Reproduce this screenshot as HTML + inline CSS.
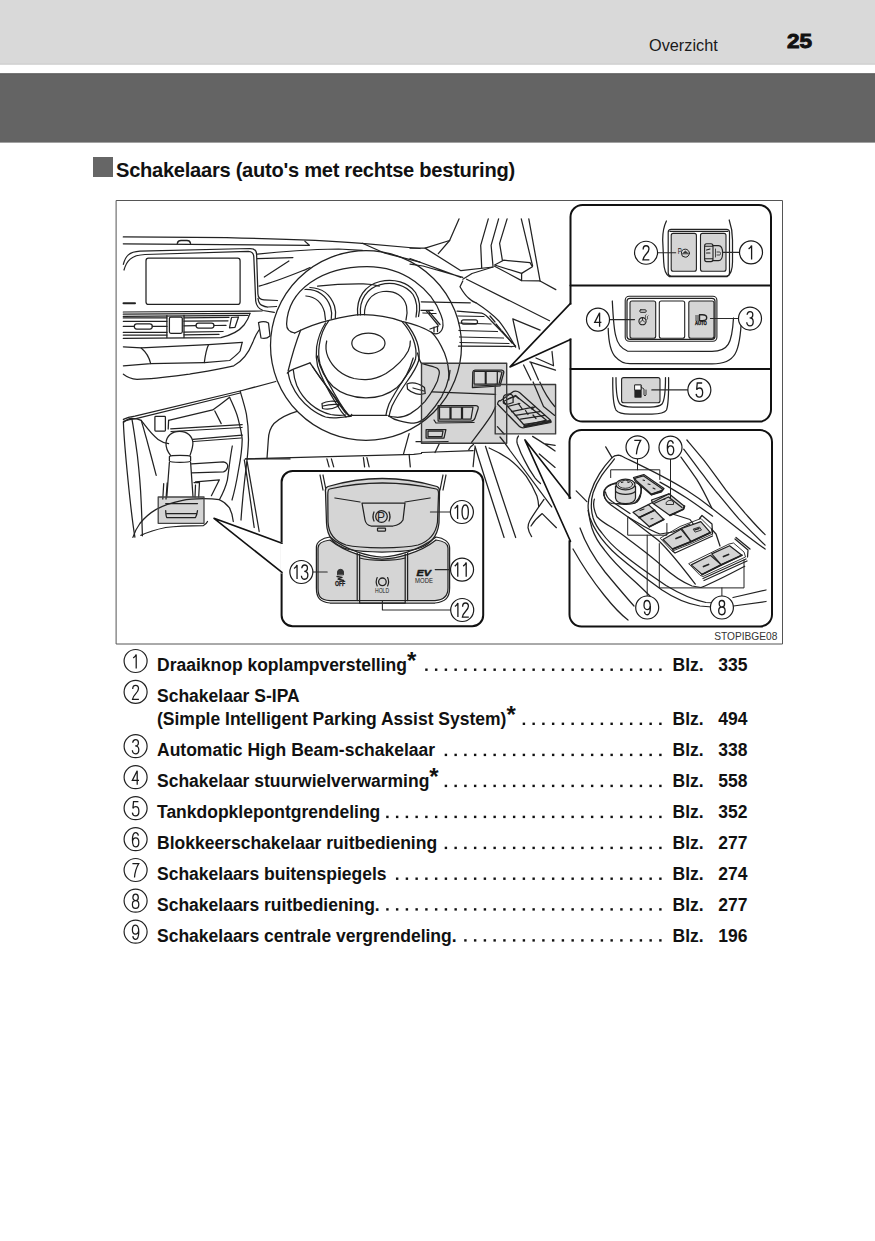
<!DOCTYPE html>
<html><head><meta charset="utf-8">
<style>
*{margin:0;padding:0;box-sizing:border-box}
html,body{width:875px;height:1241px;background:#fff;overflow:hidden}
body{position:relative;font-family:"Liberation Sans",sans-serif;color:#111}
#hdr1{position:absolute;left:0;top:0;width:875px;height:64px;background:#d9d9d9}
#hdr2{position:absolute;left:0;top:74px;width:875px;height:68px;background:#646464}
#ovz{position:absolute;left:649px;top:35px;font-size:16.3px;line-height:20px;color:#1a1a1a}
#pg{position:absolute;left:786.6px;top:30.2px;font-size:19.8px;line-height:22px;font-weight:bold;color:#111;transform-origin:0 0;transform:scaleX(1.14);-webkit-text-stroke:0.9px #111}
#sq{position:absolute;left:93px;top:157px;width:20px;height:20px;background:#666}
#h1{position:absolute;left:116px;top:158.1px;font-size:20.1px;letter-spacing:-0.27px;line-height:24px;font-weight:bold;color:#111;white-space:nowrap}
.row{position:absolute;left:157px;width:507px;height:20px;font-size:17.5px;line-height:20px;font-weight:bold;color:#111;white-space:nowrap;display:flex}
.row .t{flex:none}
.row .d{flex:1 1 0;min-width:0;overflow:hidden;direction:rtl}
.row .b{position:absolute;left:515.5px;top:0}
.row .n{position:absolute;left:561.2px;top:0}
.row i{font-style:normal;font-size:24px;line-height:0;position:relative;top:-2px;margin-left:0px}
svg{position:absolute;left:0;top:0}
</style></head><body>
<svg width="875" height="150" style="position:absolute;left:0;top:0"><rect x="0" y="0" width="875" height="64.4" fill="#d9d9d9"/><rect x="0" y="63.6" width="875" height="1" fill="#cacaca"/><rect x="0" y="73.4" width="875" height="69.2" fill="#646464"/><rect x="0" y="73.4" width="875" height="1" fill="#5a5a5a"/></svg>
<div id="ovz">Overzicht</div>
<div id="pg">25</div>
<div id="sq"></div>
<div id="h1">Schakelaars (auto's met rechtse besturing)</div>
<svg width="875" height="1241" viewBox="0 0 875 1241" fill="none" stroke="#222" stroke-width="1.25" stroke-linecap="round" stroke-linejoin="round">
<!-- outer frame -->
<rect x="116.5" y="200.5" width="666" height="443.5" stroke="#555" stroke-width="1"/>
<!-- gray highlight fills -->
<g fill="#d5d5d5" stroke="none">
<rect x="421.5" y="363.2" width="85.2" height="80.1"/>
<rect x="495.2" y="384.5" width="60.4" height="49.4"/>
<rect x="158.2" y="497" width="45.8" height="26.3"/>
</g>
<!-- ===== dashboard left ===== -->
<g id="dashL">
<path d="M123.3,236.9 C200,237 300,238 362,243.3 L420,248.5"/>
<path d="M123.3,243.8 L309.4,245.3 L304.8,241.1"/>
<path d="M177.3,243.3 Q178,240.5 181,240.5 L187,240.5 Q190,240.5 190.5,243.3" stroke-width="1.4"/>
<path d="M123.3,264.3 C125.5,256 129,251.8 140,251.2 L250.1,248.5 Q256.5,248.5 256.6,254.5 L257.9,294 Q258.2,299.5 264,299.8 L277.5,300.5"/>
<path d="M258,298.3 C258.5,302 259.5,304 261.5,305.1 C264,306.5 266,307 267.9,307 L276.5,306.5"/>
<path d="M124,270 C126.5,261 131,255.2 145,254.5 L248.3,251.4 Q253.6,251.6 253.8,257 L255.7,301 Q256.5,308 263,310.5 L274.3,312.4"/>
<rect x="146" y="258.2" width="94.1" height="46.2" rx="2.5"/>
<path d="M123.5,303.3 L135,303.3" stroke-width="2"/>
<path d="M123.3,312 L262,311"/>
<path d="M123.3,314.2 L250,313.3"/>
<path d="M123.3,316.4 L248,315.4"/>
<path d="M166.9,315.5 L166.9,337.6 M184,315.3 L184,337.6"/>
<rect x="169.4" y="317" width="12.9" height="16.3" rx="1.5"/>
<rect x="134.3" y="323.9" width="18" height="5.1" rx="2.5"/>
<rect x="196" y="323" width="18" height="5.1" rx="2.5"/>
<path d="M123.3,317.9 L166.9,317.9 M184,317.8 L229,317.3 M123.3,321.3 L166.9,321.3 M184,321.2 L228,320.8 M123.3,326.4 L134.3,326.4 M152.3,326.4 L166.9,326.4 M184,325.8 L196,325.7 M214,325.5 L226,325.4"/>
<path d="M123.3,332.4 L166.9,332.4 M184,332.2 L223,331.5 M123.3,335 L166.9,335 M184,334.8 L219,334.4"/>
<path d="M123.3,338.4 L220.9,337.6 C232,335 240,330 244,325 C247,321 249,317 250,313.3"/>
<path d="M231.5,317.5 L238.5,317 L235,327.3 L229.5,327.8 Z"/>
<path d="M123.4,346.8 L141.2,347.9 C146,352 149.5,358 150.7,363.6 L123.4,365.8"/>
<path d="M141.2,347.9 L208.5,344.7 L242.2,342.4"/>
<path d="M208.5,344.7 C206,350 205,357 204.3,362.6 L229.6,360.5 C234,357 238,354 240.1,351 L242.2,342.4"/>
<path d="M150.7,363.6 L204.3,362.6"/>
<path d="M123.4,374.2 C127,377 131,378.8 137,379.4 C155,379 172,376.5 189.6,374.2 C205,371.5 220,369 233.8,365.8 C243,361 249,352 252.7,342.6 C255,336 257,333 259,330"/>
<path d="M258.5,322.6 Q264,320.5 268.5,323 L270,336 Q266,339.5 261,338 Z"/>
</g>
<!-- ===== top / windshield ===== -->
<g id="dashTop">
<path d="M257.4,254.1 C280,251.5 310,249.5 338.6,249 L362.4,250.3"/>
<path d="M362.4,243.3 L384.3,253 L420,262.2"/>
<path d="M257.4,258.7 L292.9,257.6 M264.3,277 L288.9,261"/>
<path d="M259.1,286.1 C275,282 292,275 305.4,269.6 L310,267.5"/>
<path d="M459,218.9 L449.6,240.5 L425.1,248.1 L410,248.1"/>
<path d="M449.6,240.5 L438.3,253.7"/>
<path d="M425.1,248.1 L460.9,270.7 L493,267"/>
<path d="M488.3,218.9 L480.7,245.3 L481.7,267.9"/>
<path d="M498.6,218.9 L491.1,245.3 L493,266"/>
<path d="M507.1,218.9 L499.6,243.4 L502.4,260.3"/>
<path d="M521.3,218.9 L532.6,266"/>
<path d="M528.8,218.9 L540.1,281.1"/>
<path d="M494.6,265 L503.6,260.2 L530,262.6 L532.4,266.8 L521.6,273.4 Z"/>
<path d="M462.8,279.2 L472,273.5 L493,267"/>
<path d="M494.6,266.2 L521.6,280.6 L539.6,280.8 L555.8,289.6"/>
<path d="M521.6,273.4 L521.6,280.6"/>
<path d="M462.8,281 L460,286.7 C462.5,291 465,295 468.5,298 C471,300.5 473.5,302 476,302.8"/>
<path d="M421.3,301.8 L470.3,302.8"/>
<path d="M410,258.5 L460.9,277.3 M410,264.1 L423,266 L462.8,277.3"/>
<path d="M466.6,279.2 L549.5,320.7"/>
<path d="M512.8,318.8 L540.1,330.1 M512.8,318.8 L519.4,349"/>
</g>
<!-- right vent -->
<g>
<path d="M457.1,311.2 L481.7,313.1 C485,314 488,317 491.1,320.7 C499,329 507,337 515.6,346.1 L512,346.5"/>
<path d="M476,302.8 C484,308 492,314 498.6,320.7 C504.5,328 510,337 515.6,347.1"/>
<path d="M458.5,346.2 L512,346.5"/>
<path d="M458,316 L484,316.5 M458.5,323 L491,324 M459,330.5 L497.5,331.5 M459.5,337 L503.5,338 M460,342.5 L509,343.5"/>
<path d="M490,316 L495,322 M496,324 L501,330 M502,331 L507,337 M508,338 L512,343"/>
<rect x="461.5" y="319.8" width="16" height="4.2" rx="2"/>
</g>
<!-- ===== steering wheel ===== -->
<g id="wheel">
<ellipse cx="366" cy="345.5" rx="95.5" ry="94.8"/>
<!-- inner rim upper arc -->
<path d="M294.7,333 C289,332 286.5,329 286.6,324 C288,290 322,266.7 367,266.7 C405,266.7 432,290 441,315 C444,322 444,330 439,333 C436,334.5 433,333.5 431.4,332.2"/>
<!-- spoke/hub top line -->
<path d="M294.7,333 C305,328 318,323 329,320.4 C342,317 352,314.7 363.3,314.7 C375,314.7 388,316.5 401.9,321.3 C412,323.5 422,326.5 431.4,332.2 C437,337 441,345 444.5,353 C448,362 449.3,370 448.8,380"/>
<!-- stalk -->
<path d="M421,310.3 L433,310.3 M425.9,310.3 L438,325 M428,310.3 L440,324.5 M423,313 L436,313.5"/>
<path d="M430,329 L438.5,326 M434,327 L434,332 M437.5,326 L437.5,331.5"/>
<!-- gauges -->
<path d="M305,289.5 C318,289 327,296 330.5,307 C332,312 331.8,316 331.3,318.5"/>
<path d="M310,287.5 C323,288 331,296 334.5,306 C336,311 335.8,315 335.3,318.3"/>
<path d="M306,296 C316,297 322,303 324.5,312 L325.5,320"/>
<path d="M317.6,286.1 C332,284.5 348,283.7 363.3,283.9 C370,284 375,284.8 379.3,286.1"/>
<path d="M357.7,315 C356,298 365,285 380,281.5 C394,278.5 408,282 415.5,292.5 C419.5,299 420.5,308 418.5,316.5"/>
<path d="M360.5,314.8 C359,300 367,288 380.5,284.6 C393,281.5 406,285 413,294.5 C417,301 417.5,309 416,317"/>
<path d="M364.5,314.7 C364,303 371,293 383,291.5 C395,290 404,296 406.5,306 C407.5,311 407,316 406,320"/>
<!-- hub sides (double) -->
<path d="M329,320.4 C324,327 320.5,336 319.3,345 C318.3,352 318.5,358 320,364 C324,375 332,390 340,403 C343,408 346,412 349,415.4"/>
<path d="M325.5,323 C321,330 317.8,339 316.6,347 C315.8,354 316.2,360 317.6,366 C321,377 329,392 337,405 C340,410 343,414 346,417"/>
<path d="M401.9,321.3 C407,327 411,333 413.5,340 C416,347 416.8,353 415.5,359 C413.5,366 409,372 404,379 C398,388 392.5,397 389,404 C387.5,408 386.5,411.5 386,414.8"/>
<path d="M405.5,322.5 C410.5,328.5 414.5,335 417,342 C419.3,349 419.8,355 418.5,361 C416.5,368 412,374.5 407,381.5 C401,390 395.5,399 392,406 C390.5,410 389.5,413.5 389,416.5"/>
<!-- pad U curves -->
<path d="M326.7,341 C325.5,346 325.8,352 328,357 C333,368 343,375.5 354,378.5 C358,379.4 362,379.7 366,379.6 C373,379.3 380,377 386,373.5 C396,367 404,359 408.2,351 C409.8,347.5 410.5,344 410.3,341"/>
<path d="M317.3,356 C320,368 325,379 333,386.5 C341,393.5 352,397.5 365.5,397.9 C378,398 389,394 397,387.5 C405,380.5 410,369 413.2,358"/>
<ellipse cx="368.4" cy="343.3" rx="16.6" ry="10.3"/>
<!-- hub bottom -->
<path d="M349,415.4 L387.1,415.4"/>
<!-- left spoke bottom edge + lower-left opening -->
<path d="M287.3,373.2 C289,371 291,370 293.5,369.1 L310,362.9"/>
<path d="M288,372.3 C288.8,376.5 289.8,380.5 291.3,384.1 C293.5,389 296,393.5 299.2,397.3 C302.5,401.5 306.5,405.5 311,409.1 C315.5,412.5 320.5,415.5 325.5,417 C330,418 334.5,418 338.6,417.6 C343,417.2 347,416.8 350.4,416.3 C351.5,416 351.8,415.2 351.7,414.3"/>
<path d="M293.3,370 C293.8,376 295,381 296.8,385.5 C300,393 305,399.5 311,404.5 C317,409.5 324,413 330.8,414.5 C336,415.5 341,415.5 345.5,415"/>
<path d="M300.6,330.2 C295.5,343 291.5,357 288.1,371"/>
<path d="M310,362.9 C316,372 323,382 330.5,391.7 C336,399.5 341,407 345,412.3 C347.5,415 349.5,416 351.1,416.4"/>
<path d="M312.5,366.5 C318,375 326,385.5 332.5,394 C338,401 342.5,408 346.5,413.5"/>
<!-- right spoke bottom + lower-right opening -->
<path d="M417.5,353 C418.5,357 419.5,361 421.5,363.5 C427,365 432,366 436.8,368 C439,369.5 439.7,371.5 439.2,374 C438.5,379 437,383 434.4,387.2 C431.5,392.5 428.5,397 424.8,401.6 C420.5,406.5 415.5,410.5 410.4,413.6 C405.5,416.3 400,417.5 396,417.2 C392.5,417 390.5,416.5 388.8,416"/>
<path d="M388.8,416 C392,418.5 395.5,420 399.6,420.8 C404.5,422 409.5,423 414,423.2 C419,422.5 423.5,420 427.2,416 C432.5,410 437.5,403.5 441.6,396.8 C445,390.5 447.5,384 448.8,377.6 C449.5,375 449.8,372.5 450,370.4"/>
<!-- spoke buttons -->
<path d="M322,403.5 C327,401 334,400.5 338,402 L338.8,406 C334,408.5 327,409.5 322.5,408.5 Z"/>
<path d="M323,406 C328,404.5 333,404 338.5,404.5"/>
<path d="M407,384 C412,382 418,383 424.5,387.5 L425.2,393.5 C419,395.5 412,393.5 407.5,389 Z"/>
<path d="M413,388 L424,391"/>
</g>
<!-- lower dash under wheel -->
<g>
<path d="M245.7,458.9 L413.7,454.3 L421.5,453.5"/>
<path d="M326.9,458.9 L329.1,466.9 M331.4,458.8 L333.7,466.9 M363.4,457.7 L364.6,466.9 M366.9,457.6 L369.1,466.9"/>
<path d="M409.1,433.7 L403.4,454.3 M409.1,454.3 L410.3,466.9"/>
<path d="M416,441.7 L421.5,441.7"/>
</g>
<!-- ===== center console / gear ===== -->
<g id="console">
<path d="M123.4,419.4 C126,418 130,416.8 134.9,416.2 L240.1,391 L275.8,381.5"/>
<path d="M123.4,421.4 C127,420 131,419 136,418.6 L240.1,393"/>
<path d="M168.6,420.4 L212.7,409.9 C220,405 225,401 229.6,397.3"/>
<path d="M168.6,420.4 L168.2,429"/>
<path d="M170.7,428.8 L242.2,424.6 M171,431.5 L242,427.5"/>
<path d="M214.8,411 L221.2,423.6"/>
<rect x="154.9" y="416.4" width="10.5" height="14.6" rx="0.8"/>
<path d="M123.4,422.5 C126,420 129,418.3 131.8,418.3 C135,418.3 138.5,419 141.2,420.4 C147,428 152,435 158.1,439.4 C161,441.5 164.5,443 168.6,443.6"/>
<path d="M131.8,418.3 C134,430 136,445 137.4,455.5 C139,470 140.5,485 141.1,500.6 C141.8,515 142.2,528 142.4,535.8"/>
<path d="M123.4,422.5 C124,440 126,460 128,480 C130,500 132,520 134.9,537.1"/>
<path d="M141.2,420.4 C143,426 144.5,432 146.2,437.7 C149.5,450 153,463 156.2,475.4"/>
<!-- gear knob -->
<path d="M170.6,455.4 C167,451 165.8,447 166,443 C166.5,436 172,431.4 179.5,431.4 C187,431.4 192.5,436 192.9,443 C193,447 191.5,451 190,455.4"/>
<path d="M169.4,456.6 C170,455.8 175,455.4 180,455.4 C185,455.4 190,455.8 190.6,456.6 L190.6,461 C190,462 185,462.3 180,462.3 C175,462.3 170,462 169.4,461 Z"/>
<path d="M169.4,462.3 L166.8,497 M190.6,462.3 L193,496.7"/>
<path d="M163.7,483.7 L162.8,499 M167.2,483 L166,499 M194,482.5 L199.5,482.5 L198.7,497 M195.5,485 L195,497"/>
<path d="M192.8,439.4 L242.2,435.2 M193.5,441.5 L241,438"/>
<path d="M191.6,463.9 L223.4,461.9 C227,462.5 228.5,465 227.4,467.8 C226.5,470.5 225,471.6 223.4,471.8 L191.6,472.8"/>
<path d="M195.5,481.8 L219.4,479.8 L211.4,495.7"/>
<path d="M232.3,446 C230,458 229,469 227.4,479.8 C225.5,488 222.5,494 219.4,499.7"/>
<path d="M229.6,397.3 C233,405 236.5,412 238,418.3 C240,426 241.8,433 242.2,439.4 C242,452 240,462 238.5,470 C236,485 233.5,495 232,500"/>
<path d="M240.1,391 C242.5,399 245,407 246.4,414.1 C247.8,422 248.5,431 248.5,439.4 C248.3,452 246.5,465 245,477 C243.5,490 242,505 241,520"/>
<path d="M244.3,459.9 C248,482 251,505 254.2,527.5 M247.2,461.9 C251,485 255,508 259.2,531.5"/>
<path d="M245.3,458.9 L290,458.9"/>
<path d="M297,411.4 C288,414 280,418 274,423.5 C270,428 268.5,434 268.3,440 L267,458.5"/>
<!-- console bottom -->
<path d="M132.9,537.4 C134.5,532 137,527.5 139.9,523.5 C145,517 150,513 155.8,509.6 C164,505 172,502.5 181.6,500.6 C189,499 196,498.7 203.5,498.7 C209,498.7 214.5,499 219.4,499.7 C223.5,501.5 227,504.5 229.3,507.6 C231.5,511.5 232.8,516.5 233.3,521.5"/>
<path d="M140.9,535.4 C148,532 157,529.3 165.7,527.5 C178,525.7 190,525.5 203.5,525.5 C205.5,524.5 206.8,523 207.5,521.5"/>
<path d="M165.7,503.6 L197.5,503.6 M165.7,510.6 C165.8,514 166.2,516.5 166.7,517.5 L195.5,517.5 C196.5,516 197.2,513 197.5,510.6 M167,513.5 L196.5,513.5"/>
</g>
<!-- gear gray box border -->
<rect x="158.2" y="497" width="45.8" height="26.3" stroke="#444" stroke-width="1.3"/>
<!-- ===== switches inside box A ===== -->
<g>
<path d="M472.4,387.6 L472.8,372 Q473,370 475,370 L501.8,370 Q504,370.5 503.8,372.5 L500,386 L472.4,387.6"/>
<path d="M474.1,371.3 L485.3,371.3 L485.3,384.1 L474.1,384.1 Z M486.1,371.3 L497.3,371.3 L497.3,384.1 L486.1,384.1 Z"/>
<path d="M497.3,371.3 L502,372 L499,384 M474,386 L499,385"/>
<path d="M438.1,405.6 L476,405.6 Q479,406 478,409 L475,418 Q474,421 471,421 L438.1,421 Z"/>
<path d="M439.5,407 L450,407 L450,419 L439.5,419 Z M451,407 L461.5,407 L461.5,419 L451,419 Z M462.5,407 L473,407 L471,419 L462.5,419 Z"/>
<path d="M434,420 L436,423 L474,422.5"/>
<path d="M426.1,429.6 L445.9,429.6 L444,438.1 L426.1,438.1 Z M428,431 L443,431 L442,436.5 L428,436.5 Z"/>
<path d="M421.5,442 L448,441.5"/>
</g>
<!-- window switch cluster in box B -->
<g>
<path d="M432.1,391.9 L495.6,394.4"/>
<path d="M495.6,406.4 C494,410 492.5,413.5 490.4,416.7 C485,425 478,434 471.6,442.4"/>
<path d="M533.1,382 L543.5,406.5 L554.7,415.4 M539.8,382 C544,392 549,400 554.7,406.5"/>
<path d="M497.5,404 C498,401.5 499.5,400 500.1,400.9 L513.8,391.3 C516,390.8 518,391.3 519.5,392.5 L550.6,420.3 L551,422.5 L524.2,427.7 C522,428 520.5,427.5 519.5,426.5 Z" fill="#d5d5d5"/>
<path d="M503.4,401.5 L515.3,395.5 L546.5,420.2 L524.5,425.5 Z"/>
<path d="M503.4,397.5 L503.4,403 C504.5,404 506.5,404.3 508.5,404 L513.1,402.5 L513.1,397.5 C513,395 511,394 508.3,394.2 C505.5,394.5 503.5,395.5 503.4,397.5 Z"/>
<path d="M508,399 L512,397.5 M513.1,397.5 L516,396 L518.5,398.5"/>
<path d="M507.8,406.5 L519.8,403.5 M511.5,411.7 L533.1,407.2 M515.3,415.4 L539.8,411.7 M520.5,419.1 L545,415.4 M524.2,424.3 L549.5,420.6"/>
<path d="M518.3,403.5 L522,408.7 M525.5,410.5 L528,414.5 M533,415 L536,418.5 M535,406.5 L532,409"/>
<path d="M524.2,426.5 L550.5,421.5" stroke-width="2"/>
<path d="M497.4,426.6 L504.1,434"/>
</g>
<!-- lines below boxes A/B -->
<g>
<path d="M421.5,452.5 L473.1,450.7"/>
<path d="M435,452.5 L439.5,443.3"/>
<path d="M468.7,449.8 L470.5,447 L473.5,444.5"/>
<path d="M474.9,448 L473.1,466.6"/>
<path d="M474.9,446 C484,476 494,506 504.1,537.5"/>
<path d="M485.5,446.3 C495,476 505,506 515.7,537.5"/>
<path d="M489.1,448 C496,451 502.5,454.5 508.6,458.7 C515,463.5 521,469.5 526.3,476.4 C530.5,482.5 534,489 536.9,495.9 C538,499.5 538.5,503 538.7,506.5"/>
<path d="M500,437 C503.5,441 507,446 510,450.5 L551.7,506.9"/>
<path d="M518.5,436 C516.5,438.5 516.5,441 517.4,444 C519.5,450 521.5,455 524.5,460.4 C527.5,466.5 531,472.5 535.1,478.1 C537,480.5 538.7,482 540.5,483.5"/>
<path d="M539.3,453.9 L555.1,467.4"/>
<path d="M532.6,436.4 C540,441 548,446 555.1,451 M543.8,443.7 L555.1,445.4"/>
<path d="M544,499.4 C539,506.5 534,513.5 529.8,520.7 C528.5,523 528,525.5 528,527.7 C528.5,531 529.8,534 531.6,536.6"/>
<path d="M542.2,513.6 L556.4,527.7 M542.2,513.6 C538,517 534,521 531,526"/>
<path d="M441.3,475.5 L438.6,499.4 M445.7,475.5 L442.1,499.4"/>
</g>
<path d="M529.8,361.9 L555.5,370.2 M536,358 L553.5,365.8 L552,351.5 M523.6,365 L530.9,380 M531,363 L538.5,380"/>
<!-- gray box borders -->
<rect x="421.5" y="363.2" width="85.2" height="80.1" stroke="#3a3a3a" stroke-width="1.4"/>
<rect x="495.2" y="384.5" width="60.4" height="49.4" stroke="#3a3a3a" stroke-width="1.4"/>

<!-- ===== callout panel top ===== -->
<g>
<rect x="570.5" y="205" width="200.5" height="216.6" rx="12" fill="#fff" stroke="#111" stroke-width="2"/>
<path d="M570.5,285.5 L771,285.5 M570.5,369 L771,369" stroke="#111" stroke-width="2"/>
<path d="M570.5,304.6 L570.5,338.4" stroke="#fff" stroke-width="3.2" stroke-linecap="butt"/>
<path d="M571.2,302.8 L556,318.7 M571.2,339.5 L556,346" stroke="#fff" stroke-width="0"/>
</g>
<!-- panel1: buttons 1,2 -->
<g>
<path d="M666.4,221 C663.5,227 662.6,233 662.7,240.3 L663.7,262 C664,270 665.5,274.5 669.4,276.7 L727,276.7 C730.5,274.5 732.5,270 732.5,262 L732.5,240 C732.5,233 731.6,227 729.2,220"/>
<rect x="668.2" y="229.3" width="61.3" height="46.7" rx="3" fill="#fff" stroke-width="1.2"/>
<path d="M670,231.4 L727.7,231.4" stroke-width="1.2"/>
<rect x="671.2" y="233.4" width="25.2" height="37.9" rx="2" fill="#d5d5d5" stroke-width="1.1"/>
<rect x="700.5" y="233.4" width="25.5" height="37.9" rx="2" fill="#d5d5d5" stroke-width="1.1"/>
<text x="677.8" y="253.7" font-size="9" font-family="Liberation Sans" fill="#1a1a1a" stroke="none" textLength="4" lengthAdjust="spacingAndGlyphs">P</text>
<circle cx="685.4" cy="253.2" r="4" stroke-width="1"/>
<path d="M682.6,253.6 L685.4,251 L688.2,253.6 Z" fill="#333" stroke-width="0.6"/>
<path d="M706.5,243.7 L711,243.7 Q713,243.7 713,246 L713,259.3 Q713,261.6 711,261.6 L706.5,261.6 Q704.6,261.6 704.6,259.3 L704.6,246 Q704.6,243.7 706.5,243.7 Z M704.8,246.2 L712.8,246.2 M704.8,258.8 L712.8,258.8 M706.5,250 L710,249 M706.5,253 L710,253" stroke-width="1.1"/>
<path d="M713,245.6 L718.5,245.6 Q722.6,245.6 722.6,253.1 Q722.6,260.6 718.5,260.6 L713,260.6" stroke-width="1.1"/>
<path d="M715.5,249 L715.5,257 M717,252 L719.5,252 Q720.5,252 720.5,253.5 Q720.5,255 719.5,255 L717,255" stroke-width="0.8"/>
</g>
<!-- panel2: buttons 3,4 -->
<g>
<path d="M612.3,301 C613,315 614,330 615.8,336 C617,342 620,348 627.4,351 L712,351.4 C728,351.4 732,344 733.5,318"/>
<path d="M608.2,328.4 C608.5,340 610.5,352 615.8,357.2 C619,361 623,363.7 630,363.7 L712,363.9 C736,363.9 740,352 741.5,318"/>
<rect x="625.2" y="296.3" width="91.7" height="44.9" rx="4" fill="#fff" stroke-width="1.1"/>
<rect x="627" y="298.3" width="88" height="41" rx="3"/>
<rect x="630" y="301" width="25.7" height="37.3" rx="2" fill="#d5d5d5" stroke-width="1.1"/>
<rect x="659.3" y="301" width="25.4" height="37.3" rx="2" fill="#fff" stroke-width="1.1"/>
<rect x="688.8" y="301" width="25.2" height="37.3" rx="2" fill="#d5d5d5" stroke-width="1.1"/>
<rect x="639.8" y="309.8" width="6.4" height="2.5" rx="1" stroke-width="1"/>
<circle cx="642.5" cy="321.2" r="3.6" stroke-width="1.1"/>
<path d="M640.2,322.3 L642.5,320 L644.8,322.3 M642.5,320 L642.5,318" stroke-width="0.9"/>
<path d="M645,318.5 Q646,317.5 645.5,316.5 Q645,315.5 646,314.8 M647,319.5 Q648,318.5 647.5,317.5 Q647,316.5 648,315.8" stroke-width="0.8"/>
<path d="M699.5,314.7 L702.5,314.7 Q706.7,314.7 706.7,317.7 Q706.7,320.6 702.5,320.6 L699.5,320.6 Z" stroke-width="1.4"/>
<path d="M695.5,316 L698.5,316 M695.5,318 L698.5,318 M695.5,320 L698.5,320" stroke-width="0.9"/>
<text x="694.9" y="324.8" font-size="5" font-weight="bold" font-family="Liberation Sans" fill="#1a1a1a" stroke="#1a1a1a" stroke-width="0.35" textLength="11.8" lengthAdjust="spacingAndGlyphs">AUTO</text>
</g>
<!-- panel3: button 5 -->
<g>
<path d="M612.8,377.6 C612.5,395 613,405 616,410 Q619,414 630,414 L652,414 Q664,414 666.5,410 C668.5,405 668.8,395 668.6,377.6"/>
<path d="M616,377.6 C616,393 617,401 620,404 Q623,407 633,407 L650,407 Q659,407 662,404 C665,400 665.5,392 665.5,377.6"/>
<rect x="621.6" y="377.6" width="38.4" height="25.1" rx="2" fill="#d5d5d5" stroke-width="1.1"/>
<path d="M635,385 L641,385 L641,397 L635,397 Z" fill="#222"/>
<path d="M635,385 L641,385 L641,390 L635,390 Z" fill="#fff" stroke-width="0.8"/>
<path d="M641,387 L644,389 L644,395 Q645,397 646,395 L646,390" stroke-width="0.9"/>
</g>
<!-- ===== callout panel window switches ===== -->
<g>
<rect x="569.5" y="430" width="202.5" height="196.5" rx="12" fill="#fff" stroke="#111" stroke-width="2"/>
<path d="M569.5,498.9 L569.5,540.3" stroke="#fff" stroke-width="3.2" stroke-linecap="butt"/>
</g>
<g>
<!-- door / background lines -->
<path d="M686.9,440 C692,446 698,453 703.4,459.7 C711,469.5 718,479.5 725.7,489.9 C732,498 739,506 745.4,513.6 C752,521 758,528 765.1,534.6"/>
<path d="M683.7,449.2 C689,456 694,463 699.4,470.2 C706,478.5 712,487 719.1,495.2 C725.5,503 732,511 738.9,518.9 C747,527.5 756,536.5 765.1,545.1"/>
<path d="M681,457.1 C686,464 691.5,471.5 696.8,479.4 C702,488 707,498 711.9,508.3"/>
<path d="M620.8,455.7 C642,466 664,476 686.3,490 C695,495.5 703.5,501.5 711.9,508.3 C721,515.5 730,522.5 738.9,529.4 C747.5,536 756,542.5 765.1,549.1"/>
<path d="M660,482.1 C669,487 678,492.5 686.3,497.8 C695,503.5 704,510 712.6,516.2"/>
<path d="M605.7,446.9 L612,457.6"/>
<path d="M576.2,490.9 L586.9,501.6"/>
<path d="M612,457.6 C613.5,456 615.5,455.3 618.3,455.1 L620.8,455.7"/>
<path d="M612,457.6 C607,463 603,468 599.4,473.9 C595.5,480 592.5,486.5 590.6,492.8 C589,497 588.1,501 588.1,505.4 C588.1,510 588.8,514 590,518 C591.8,523 594,527.5 596.9,531.8 C602,540 609,548 618,556 C632,568 648,580 662,590 C674,598 688,604 700,606 L712,607"/>
<path d="M614.5,458.9 C610,465 605.5,470 601.9,475.2 C598,481 595,487 593.1,492.8 C591.8,497 591.3,501 591.3,505.4 C591.3,510 592,514 593.1,518 C595,524 598,528.5 601.9,533 C607,540 614,547 622,553.5 C636,565 652,576 666,585.5 C680,594 694,600 706,602.5 L719,603"/>
<path d="M588.1,510.4 C589,516 590.2,522 591.9,528 C594.5,536 599,543.5 604.5,550 C612,560 622,570 632,579 C640,586 648,594 655,601"/>
<path d="M580,528 C586,545 594,558 605,572 C615,584 625,596 634,606"/>
<path d="M573,549 C582,565 592,580 604,595 C612,605 620,614 628,620"/>
<path d="M733,597.5 L766,590 M733.5,606 L766,601.5"/>
<!-- console top surface -->
<path d="M594.4,499.1 C593,503 593,508 596.9,516.7 C601,521 606,524 610.7,526.7 C617,531 623,535 628.3,539.3 C640,548 652,557 662,566 C672,575 682,582 692,586 L701,587.5 C712,583 728,575 744.7,566.2"/>
<path d="M603.8,495 C603,491 604.5,488.5 608,486.5 C612,484 616,482.5 619,481.8"/>
<path d="M603.8,495 C604.5,499 607,502 611,505 L628,517 L658.2,540.2 C670,551 683,568 695.3,584.1"/>
<path d="M605.5,492 C606,496 608.5,499 612,501.5 L630,513.5"/>
<path d="M640,483 C643,489 641,497 635,502.9 L617,503.5"/>
<!-- mirror knob -->
<path d="M604,494 C604.5,489 607,485.5 611,484.3 L617,483.5 M634,482.5 C638,483 640.5,485.5 641,488.5 C641.5,494 640,499 637,502 C634,504 629,504.5 624,504.3 L612,503.5 C607,502.5 604.5,499 604,494" fill="none"/>
<path d="M615.5,486 L615.5,498 C616,501.5 620,503.6 625.5,503.6 C631,503.6 635,501.5 635.5,498 L635.5,486 Z" fill="#d5d5d5"/>
<ellipse cx="625.5" cy="484.5" rx="9.5" ry="5.4" fill="#d5d5d5"/>
<ellipse cx="625.3" cy="484.3" rx="7.3" ry="4" stroke-width="0.9"/>
<path d="M615.6,491.5 C618,493.5 621.5,494.3 625.5,494.3 C629.5,494.3 633,493.5 635.4,491.5"/>
<path d="M621.5,482.5 L623,482 M627.5,482 L629,482.5" stroke-width="1.1"/>
<!-- mirror L/R selector -->
<path d="M633.5,477.5 L643.8,474.6 L664,488.6 L661.5,491.8 L651.5,495 L635,480.8 Z"/>
<path d="M634.5,478.4 L643.3,475.8 L662.8,489.2 L660.8,491.2 L651.5,494.3 L636.1,480.4 Z" fill="#d5d5d5"/>
<path d="M651.5,494.3 L660.8,491.2" stroke-width="1.8"/>
<path d="M643,480 L644.5,480.5 M648,484 L650,484.5 M653,488 L655,489" stroke-width="1.1"/>
<!-- lock switch 6 -->
<path d="M651.5,500 L669,493.8 L684.4,506.2 L683.4,509.2 L670,515.4 L652.5,503.1 Z" fill="#d5d5d5"/>
<path d="M670,515.4 L683.4,509.2 L684.4,506.2" stroke-width="1.8"/>
<path d="M654,503.5 L668.5,497 L682,507.5"/>
<path d="M666.5,502 Q670,498.5 673.5,502 L673.5,504.5 L666.5,504.5 Z" stroke-width="0.9"/>
<path d="M663.5,499.5 L665,499" stroke-width="1.2"/>
<!-- central lock 9 -->
<path d="M633,512.3 L648.4,504.6 L654.6,510.3 L639.2,517.5 Z" fill="#d5d5d5"/>
<path d="M639.2,517.5 L654.6,510.3 L663.8,519.5 L649.4,526.7 Z" fill="#d5d5d5"/>
<path d="M639.2,517.5 L654.6,510.3" stroke-width="1.8"/>
<path d="M649.4,526.7 L663.8,519.5" stroke-width="1.8"/>
<path d="M640,510.5 L644,509 M651,519 L653,518.5" stroke-width="1.1"/>
<path d="M648.4,504.6 L651,503.3 L669,493.8"/>
<path d="M628,517 C640,524 650,531 660,534 L673,532 C678,530 684,527 690,524"/>
<path d="M672.5,514 L690,519.5 L694,525"/>
<!-- window switches front pair -->
<path d="M660.5,538 L680,526.5 L701,518.5 L711.5,529 L712.5,534 L691.5,543.5 L672.6,551 Z" stroke-width="0.9"/>
<path d="M663,539.5 L680.9,529.2 L691.2,541.6 L672.6,549.1 Z" fill="#d5d5d5"/>
<path d="M681.6,528.5 L700.8,521.7 L710.4,532.6 L691.2,541.6 Z" fill="#d5d5d5"/>
<path d="M672.6,549.1 L691.2,541.6 L710.4,532.6" stroke-width="1.8"/>
<path d="M676,538.5 L681,536.5" stroke-width="1.8"/>
<path d="M693.5,529 L699.5,527 L701.5,530 L695.5,532 Z" stroke-width="0.9"/>
<path d="M694.8,529.8 L699,528.5" stroke-width="1.4"/>
<path d="M672.6,551 L675,553 L712.5,536"/>
<path d="M699.5,518.5 L702,515.5 L712,524 L712.5,534"/>
<path d="M711.5,529 L716,534 L720,546"/>
<!-- window switches rear pair -->
<path d="M689,563.5 L729,544 L733.5,543 L744,552 L745.5,557 L703,576.5 L700.5,575.5 Z" stroke-width="0.9"/>
<path d="M691.2,564.9 L710.4,555.3 L721.3,564.9 L702.1,574.5 Z" fill="#d5d5d5"/>
<path d="M711.7,553.9 L729.6,545.7 L741.9,555.3 L721.3,564.9 Z" fill="#d5d5d5"/>
<path d="M702.1,574.5 L721.3,564.9 L741.9,555.3" stroke-width="1.8"/>
<path d="M703.5,566.5 L708.5,564.5 M723.5,556.5 L728.5,554.5" stroke-width="1.8"/>
<path d="M703,578.5 L746,559 M704,580.5 L747,561"/>
<path d="M735,539 L748,550 L747.5,557"/>
<path d="M736,537.5 L750,549"/>
<!-- brackets -->
<path d="M610.7,477.6 L610.7,469.8 L659.8,469.8 L659.8,479.5 M637.5,469.8 L637.5,458.8" stroke-width="1"/>
<path d="M670.5,459.1 L670.5,499" stroke-width="1"/>
<path d="M627.7,517.8 L627.7,535.2 L666.9,535.2 L666.9,523.5 M647.2,535.2 L647.2,596.0" stroke-width="1"/>
<path d="M659.3,543.6 L659.3,587.9 L744,587.9 L744,560 M721.9,587.9 L721.9,596.0" stroke-width="1"/>
</g>
<!-- ===== EV panel ===== -->
<g>
<rect x="281.6" y="471" width="201.6" height="155.3" rx="11" fill="#fff" stroke="#111" stroke-width="2"/>
<path d="M281.6,543.5 L281.6,572" stroke="#fff" stroke-width="3"/>
<path d="M320,475 L323,490 M323,475 L326,490 M443,475 L440,490 M446,475 L443,490"/>
<path d="M325.5,492 C325,489 326,487.2 328,486.5 Q382,470.5 437,486.5 C439,487.2 439.7,489 439.5,492 L439,523 C437.5,537 430,546 415,549.5 C405,551.5 395,552 382,552 C369,552 359,551.5 349,549.5 C334,546 327,537 326.5,523 Z" fill="#d5d5d5"/>
<path d="M329.6,489 Q382,477 436.4,489 C438,489.5 438.8,491 438.5,495 L437.5,522 C436,533 430,541 418,545 C408,547.5 396,547.8 382,547.8 C368,547.8 356,547.5 346,545 C334,541 328.5,533 328,522 L327.8,495 C327.8,491 328.5,489 329.6,489 Z" fill="#d5d5d5"/>
<path d="M335,498 L360,502 M405,502 L430,498"/>
<path d="M362,503 L405,503 L403,520 Q400,525 393,526 L371,526 Q366,525 365,520 Z"/>
<text x="377" y="521" font-size="12" font-family="Liberation Sans" fill="#222" stroke="none">P</text>
<circle cx="381.5" cy="516.5" r="5.8"/>
<path d="M374,512 Q372,516.5 374,521 M389,512 Q391,516.5 389,521"/>
<rect x="377.5" y="528" width="8" height="3" rx="0.5"/>
<path d="M316.4,548 C316,542 322,538 330,537 C345,550 370,557 382,557 C395,557 420,550 436,537 C444,538 449.6,542 449.6,548 L449.6,588 C449.6,598 445,602 435,603 L330,603 C320,602 316.4,598 316.4,588 Z"/>
<path d="M318,548 C318,544 322,541 330,540 C346,553 370,559 382,559 C395,559 420,553 436,540 C444,541 448,544 448,548 L448,588 C448,596 444,600 435,600.6 L330,600.6 C320,600 318,596 318,588 Z" fill="#d5d5d5"/>
<path d="M357.2,553 L357.2,600.6 M359.6,554 L359.6,603 L405.2,603 L405.2,554 M407.6,553 L407.6,600.6"/>
<path d="M359.6,558 C370,561 395,561 405.2,558"/>
<circle cx="382.4" cy="581.8" r="3.8" stroke-width="1.3"/>
<path d="M377.2,577.6 Q375.2,581.8 377.2,586 M387.6,577.6 Q389.6,581.8 387.6,586" stroke-width="1.2"/>
<text x="375" y="592.9" font-size="7.3" font-family="Liberation Sans" fill="#222" stroke="none" textLength="14.1" lengthAdjust="spacingAndGlyphs">HOLD</text>
<text x="416.6" y="575.8" font-size="8.6" font-weight="bold" font-style="italic" font-family="Liberation Sans" fill="#1a1a1a" stroke="#1a1a1a" stroke-width="0.5" textLength="14.5" lengthAdjust="spacingAndGlyphs">EV</text>
<text x="415.1" y="583.2" font-size="7.3" font-family="Liberation Sans" fill="#222" stroke="none" textLength="17.8" lengthAdjust="spacingAndGlyphs">MODE</text>
<path d="M337.5,574.5 L337.5,571.5 Q338,569.3 340.5,569.3 Q343,569.3 343.5,571.5 L343.5,574.5 Z" fill="#333" stroke-width="0.8"/>
<text x="334.9" y="586.2" font-size="7" font-weight="bold" font-family="Liberation Sans" fill="#1a1a1a" stroke="#1a1a1a" stroke-width="0.3" textLength="10.4" lengthAdjust="spacingAndGlyphs">OFF</text>
<path d="M337,576.5 L342,577.5 L338,579 L343.5,580.5" stroke-width="1.3"/>
</g>
<!-- ===== callout pointers ===== -->
<g stroke="#111" stroke-width="1.6" fill="none">
<path d="M570.5,303.4 L510,366.9 L570.5,339.6" />
<path d="M570.5,497.9 L524.9,439.8 L570.5,541.3" fill="none"/>
<path d="M282,543.2 L214,518.3 L282,572.4"/>
</g>
<!-- ===== leaders ===== -->
<g stroke="#2a2a2a" stroke-width="1.1">
<path d="M657.5,252.75 L675.7,252.75"/>
<path d="M739.5,252.4 L722.4,252.4"/>
<path d="M609.5,319.6 L634.5,319.6"/>
<path d="M738.5,318.55 L710.4,318.55"/>
<path d="M687.9,389.9 L651.8,389.9"/>
<path d="M450.4,512 L430.4,512"/>
<path d="M450.6,569.6 L435.2,569.6"/>
<path d="M382.4,600.6 L382.4,610 L450.7,610"/>
<path d="M312.9,572 L327.2,572"/>
</g>
<!-- ===== circled numbers ===== -->
<g fill="#fff" stroke="#1a1a1a" stroke-width="1.2">
<circle cx="751" cy="252.4" r="11.5"/>
<circle cx="646.05" cy="252.75" r="11.5"/>
<circle cx="750" cy="318.55" r="11.5"/>
<circle cx="598" cy="319.6" r="11.5"/>
<circle cx="699.35" cy="389.9" r="11.5"/>
<circle cx="670.5" cy="447.6" r="11.5"/>
<circle cx="637.5" cy="447.3" r="11.5"/>
<circle cx="721.9" cy="607.5" r="11.5"/>
<circle cx="647.2" cy="607.5" r="11.5"/>
<circle cx="461.9" cy="512" r="11.5"/>
<circle cx="462.05" cy="569.6" r="11.5"/>
<circle cx="462.2" cy="610" r="11.5"/>
<circle cx="301.35" cy="572" r="11.5"/>
</g>
<g fill="none" stroke="#1a1a1a" stroke-width="1.3" stroke-linecap="butt" stroke-linejoin="miter">
<path transform="translate(748.10 259.50)" d="M0.5,-10.6 C1.6,-11.4 2.9,-12.6 3.5,-14.1 L3.5,0"/>
<path transform="translate(642.55 259.85)" d="M0.6,-10.4 C0.6,-12.8 1.9,-14.1 3.5,-14.1 C5.2,-14.1 6.4,-12.8 6.4,-10.8 C6.4,-8.8 5.2,-7.4 3.7,-5.8 C2,-4 0.7,-2.2 0.4,0 L6.8,0"/>
<path transform="translate(746.50 325.65)" d="M0.6,-10.9 C0.8,-12.9 2,-14.1 3.5,-14.1 C5.2,-14.1 6.3,-12.9 6.3,-11 C6.3,-9 5.1,-7.8 3.1,-7.8 M3.1,-7.8 C5.3,-7.8 6.7,-6.2 6.7,-4 C6.7,-1.5 5.3,0.15 3.5,0.15 C1.7,0.15 0.4,-1.1 0.25,-3.4"/>
<path transform="translate(594.50 326.70)" d="M5.1,0 L5.1,-14 L0.2,-4.3 L6.9,-4.3"/>
<path transform="translate(695.85 397.00)" d="M6.3,-14 L1.4,-14 L0.8,-7.3 C1.6,-8.5 2.6,-9 3.6,-9 C5.5,-9 6.8,-7.2 6.8,-4.5 C6.8,-1.6 5.3,0.15 3.4,0.15 C1.7,0.15 0.5,-1 0.25,-3.1"/>
<path transform="translate(667.00 454.70)" d="M6.3,-11 C6,-13.1 4.9,-14.1 3.5,-14.1 C1.4,-14.1 0.35,-11.4 0.35,-6.8 C0.35,-2.1 1.6,0.15 3.6,0.15 C5.4,0.15 6.7,-1.8 6.7,-4.5 C6.7,-7.2 5.3,-8.9 3.6,-8.9 C1.9,-8.9 0.7,-7.4 0.45,-5.4"/>
<path transform="translate(634.00 454.40)" d="M0.3,-14 L6.7,-14 C4.4,-10.2 2.8,-5.4 2.4,0"/>
<path transform="translate(718.40 614.60)" d="M3.5,-14.1 C1.9,-14.1 0.8,-12.7 0.8,-10.8 C0.8,-8.9 1.9,-7.6 3.5,-7.6 C5.1,-7.6 6.2,-8.9 6.2,-10.8 C6.2,-12.7 5.1,-14.1 3.5,-14.1 Z M3.5,-7.6 C1.6,-7.6 0.3,-6 0.3,-3.75 C0.3,-1.4 1.6,0.15 3.5,0.15 C5.4,0.15 6.7,-1.4 6.7,-3.75 C6.7,-6 5.4,-7.6 3.5,-7.6 Z"/>
<path transform="translate(643.70 614.60)" d="M0.7,-3.1 C1,-1.1 2.1,0.15 3.5,0.15 C5.6,0.15 6.65,-2.5 6.65,-7.1 C6.65,-11.8 5.4,-14.1 3.4,-14.1 C1.6,-14.1 0.3,-12.1 0.3,-9.4 C0.3,-6.7 1.7,-5 3.4,-5 C5.1,-5 6.3,-6.5 6.55,-8.5"/>
<path transform="translate(454.10 519.10)" d="M0.5,-10.6 C1.6,-11.4 2.9,-12.6 3.5,-14.1 L3.5,0"/><path transform="translate(461.70 519.10)" d="M3.5,-14.1 C1.6,-14.1 0.35,-11.5 0.35,-7.05 C0.35,-2.6 1.6,0.1 3.5,0.1 C5.4,0.1 6.65,-2.6 6.65,-7.05 C6.65,-11.5 5.4,-14.1 3.5,-14.1 Z"/>
<path transform="translate(454.25 576.70)" d="M0.5,-10.6 C1.6,-11.4 2.9,-12.6 3.5,-14.1 L3.5,0"/><path transform="translate(462.70 576.70)" d="M0.5,-10.6 C1.6,-11.4 2.9,-12.6 3.5,-14.1 L3.5,0"/>
<path transform="translate(454.40 617.10)" d="M0.5,-10.6 C1.6,-11.4 2.9,-12.6 3.5,-14.1 L3.5,0"/><path transform="translate(462.00 617.10)" d="M0.6,-10.4 C0.6,-12.8 1.9,-14.1 3.5,-14.1 C5.2,-14.1 6.4,-12.8 6.4,-10.8 C6.4,-8.8 5.2,-7.4 3.7,-5.8 C2,-4 0.7,-2.2 0.4,0 L6.8,0"/>
<path transform="translate(293.55 579.10)" d="M0.5,-10.6 C1.6,-11.4 2.9,-12.6 3.5,-14.1 L3.5,0"/><path transform="translate(301.15 579.10)" d="M0.6,-10.9 C0.8,-12.9 2,-14.1 3.5,-14.1 C5.2,-14.1 6.3,-12.9 6.3,-11 C6.3,-9 5.1,-7.8 3.1,-7.8 M3.1,-7.8 C5.3,-7.8 6.7,-6.2 6.7,-4 C6.7,-1.5 5.3,0.15 3.5,0.15 C1.7,0.15 0.4,-1.1 0.25,-3.4"/>
</g>
<text x="714.2" y="640.4" font-family="Liberation Sans" font-size="10.4" fill="#333" stroke="none" textLength="63.2" lengthAdjust="spacingAndGlyphs">STOPIBGE08</text>
</svg>

<div class="row" style="top:654.84px"><span class="t">Draaiknop koplampverstelling<i>*</i></span><span class="b">Blz.</span><span class="n">335</span></div>
<div class="row" style="top:685.74px"><span class="t">Schakelaar S-IPA</span></div>
<div class="row" style="top:708.94px"><span class="t">(Simple Intelligent Parking Assist System)<i>*</i></span><span class="b">Blz.</span><span class="n">494</span></div>
<div class="row" style="top:740.04px"><span class="t">Automatic High Beam-schakelaar</span><span class="b">Blz.</span><span class="n">338</span></div>
<div class="row" style="top:771.04px"><span class="t">Schakelaar stuurwielverwarming<i>*</i></span><span class="b">Blz.</span><span class="n">558</span></div>
<div class="row" style="top:802.04px"><span class="t">Tankdopklepontgrendeling</span><span class="b">Blz.</span><span class="n">352</span></div>
<div class="row" style="top:833.04px"><span class="t">Blokkeerschakelaar ruitbediening</span><span class="b">Blz.</span><span class="n">277</span></div>
<div class="row" style="top:863.84px"><span class="t">Schakelaars buitenspiegels</span><span class="b">Blz.</span><span class="n">274</span></div>
<div class="row" style="top:894.54px"><span class="t">Schakelaars ruitbediening.</span><span class="b">Blz.</span><span class="n">277</span></div>
<div class="row" style="top:925.54px"><span class="t">Schakelaars centrale vergrendeling.</span><span class="b">Blz.</span><span class="n">196</span></div>
<svg width="875" height="1241" viewBox="0 0 875 1241">
<circle cx="135.6" cy="661.0" r="11.5" fill="none" stroke="#222" stroke-width="1.2"/>
<circle cx="135.6" cy="691.9" r="11.5" fill="none" stroke="#222" stroke-width="1.2"/>
<circle cx="135.6" cy="746.2" r="11.5" fill="none" stroke="#222" stroke-width="1.2"/>
<circle cx="135.6" cy="777.2" r="11.5" fill="none" stroke="#222" stroke-width="1.2"/>
<circle cx="135.6" cy="808.2" r="11.5" fill="none" stroke="#222" stroke-width="1.2"/>
<circle cx="135.6" cy="839.2" r="11.5" fill="none" stroke="#222" stroke-width="1.2"/>
<circle cx="135.6" cy="870.0" r="11.5" fill="none" stroke="#222" stroke-width="1.2"/>
<circle cx="135.6" cy="900.7" r="11.5" fill="none" stroke="#222" stroke-width="1.2"/>
<circle cx="135.6" cy="931.7" r="11.5" fill="none" stroke="#222" stroke-width="1.2"/>
<g fill="none" stroke="#1a1a1a" stroke-width="1.25">
<path transform="translate(132.70 668.50)" d="M0.5,-10.6 C1.6,-11.4 2.9,-12.6 3.5,-14.1 L3.5,0"/>
<path transform="translate(132.10 699.40)" d="M0.6,-10.4 C0.6,-12.8 1.9,-14.1 3.5,-14.1 C5.2,-14.1 6.4,-12.8 6.4,-10.8 C6.4,-8.8 5.2,-7.4 3.7,-5.8 C2,-4 0.7,-2.2 0.4,0 L6.8,0"/>
<path transform="translate(132.10 753.70)" d="M0.6,-10.9 C0.8,-12.9 2,-14.1 3.5,-14.1 C5.2,-14.1 6.3,-12.9 6.3,-11 C6.3,-9 5.1,-7.8 3.1,-7.8 M3.1,-7.8 C5.3,-7.8 6.7,-6.2 6.7,-4 C6.7,-1.5 5.3,0.15 3.5,0.15 C1.7,0.15 0.4,-1.1 0.25,-3.4"/>
<path transform="translate(132.10 784.70)" d="M5.1,0 L5.1,-14 L0.2,-4.3 L6.9,-4.3"/>
<path transform="translate(132.10 815.70)" d="M6.3,-14 L1.4,-14 L0.8,-7.3 C1.6,-8.5 2.6,-9 3.6,-9 C5.5,-9 6.8,-7.2 6.8,-4.5 C6.8,-1.6 5.3,0.15 3.4,0.15 C1.7,0.15 0.5,-1 0.25,-3.1"/>
<path transform="translate(132.10 846.70)" d="M6.3,-11 C6,-13.1 4.9,-14.1 3.5,-14.1 C1.4,-14.1 0.35,-11.4 0.35,-6.8 C0.35,-2.1 1.6,0.15 3.6,0.15 C5.4,0.15 6.7,-1.8 6.7,-4.5 C6.7,-7.2 5.3,-8.9 3.6,-8.9 C1.9,-8.9 0.7,-7.4 0.45,-5.4"/>
<path transform="translate(132.10 877.50)" d="M0.3,-14 L6.7,-14 C4.4,-10.2 2.8,-5.4 2.4,0"/>
<path transform="translate(132.10 908.20)" d="M3.5,-14.1 C1.9,-14.1 0.8,-12.7 0.8,-10.8 C0.8,-8.9 1.9,-7.6 3.5,-7.6 C5.1,-7.6 6.2,-8.9 6.2,-10.8 C6.2,-12.7 5.1,-14.1 3.5,-14.1 Z M3.5,-7.6 C1.6,-7.6 0.3,-6 0.3,-3.75 C0.3,-1.4 1.6,0.15 3.5,0.15 C5.4,0.15 6.7,-1.4 6.7,-3.75 C6.7,-6 5.4,-7.6 3.5,-7.6 Z"/>
<path transform="translate(132.10 939.20)" d="M0.7,-3.1 C1,-1.1 2.1,0.15 3.5,0.15 C5.6,0.15 6.65,-2.5 6.65,-7.1 C6.65,-11.8 5.4,-14.1 3.4,-14.1 C1.6,-14.1 0.3,-12.1 0.3,-9.4 C0.3,-6.7 1.7,-5 3.4,-5 C5.1,-5 6.3,-6.5 6.55,-8.5"/>
</g><g fill="#111">
<rect x="659.20" y="668.50" width="2.4" height="2.4"/>
<rect x="649.45" y="668.50" width="2.4" height="2.4"/>
<rect x="639.70" y="668.50" width="2.4" height="2.4"/>
<rect x="629.95" y="668.50" width="2.4" height="2.4"/>
<rect x="620.20" y="668.50" width="2.4" height="2.4"/>
<rect x="610.45" y="668.50" width="2.4" height="2.4"/>
<rect x="600.70" y="668.50" width="2.4" height="2.4"/>
<rect x="590.95" y="668.50" width="2.4" height="2.4"/>
<rect x="581.20" y="668.50" width="2.4" height="2.4"/>
<rect x="571.45" y="668.50" width="2.4" height="2.4"/>
<rect x="561.70" y="668.50" width="2.4" height="2.4"/>
<rect x="551.95" y="668.50" width="2.4" height="2.4"/>
<rect x="542.20" y="668.50" width="2.4" height="2.4"/>
<rect x="532.45" y="668.50" width="2.4" height="2.4"/>
<rect x="522.70" y="668.50" width="2.4" height="2.4"/>
<rect x="512.95" y="668.50" width="2.4" height="2.4"/>
<rect x="503.20" y="668.50" width="2.4" height="2.4"/>
<rect x="493.45" y="668.50" width="2.4" height="2.4"/>
<rect x="483.70" y="668.50" width="2.4" height="2.4"/>
<rect x="473.95" y="668.50" width="2.4" height="2.4"/>
<rect x="464.20" y="668.50" width="2.4" height="2.4"/>
<rect x="454.45" y="668.50" width="2.4" height="2.4"/>
<rect x="444.70" y="668.50" width="2.4" height="2.4"/>
<rect x="434.95" y="668.50" width="2.4" height="2.4"/>
<rect x="425.20" y="668.50" width="2.4" height="2.4"/>
<rect x="659.20" y="722.60" width="2.4" height="2.4"/>
<rect x="649.45" y="722.60" width="2.4" height="2.4"/>
<rect x="639.70" y="722.60" width="2.4" height="2.4"/>
<rect x="629.95" y="722.60" width="2.4" height="2.4"/>
<rect x="620.20" y="722.60" width="2.4" height="2.4"/>
<rect x="610.45" y="722.60" width="2.4" height="2.4"/>
<rect x="600.70" y="722.60" width="2.4" height="2.4"/>
<rect x="590.95" y="722.60" width="2.4" height="2.4"/>
<rect x="581.20" y="722.60" width="2.4" height="2.4"/>
<rect x="571.45" y="722.60" width="2.4" height="2.4"/>
<rect x="561.70" y="722.60" width="2.4" height="2.4"/>
<rect x="551.95" y="722.60" width="2.4" height="2.4"/>
<rect x="542.20" y="722.60" width="2.4" height="2.4"/>
<rect x="532.45" y="722.60" width="2.4" height="2.4"/>
<rect x="522.70" y="722.60" width="2.4" height="2.4"/>
<rect x="659.20" y="753.70" width="2.4" height="2.4"/>
<rect x="649.45" y="753.70" width="2.4" height="2.4"/>
<rect x="639.70" y="753.70" width="2.4" height="2.4"/>
<rect x="629.95" y="753.70" width="2.4" height="2.4"/>
<rect x="620.20" y="753.70" width="2.4" height="2.4"/>
<rect x="610.45" y="753.70" width="2.4" height="2.4"/>
<rect x="600.70" y="753.70" width="2.4" height="2.4"/>
<rect x="590.95" y="753.70" width="2.4" height="2.4"/>
<rect x="581.20" y="753.70" width="2.4" height="2.4"/>
<rect x="571.45" y="753.70" width="2.4" height="2.4"/>
<rect x="561.70" y="753.70" width="2.4" height="2.4"/>
<rect x="551.95" y="753.70" width="2.4" height="2.4"/>
<rect x="542.20" y="753.70" width="2.4" height="2.4"/>
<rect x="532.45" y="753.70" width="2.4" height="2.4"/>
<rect x="522.70" y="753.70" width="2.4" height="2.4"/>
<rect x="512.95" y="753.70" width="2.4" height="2.4"/>
<rect x="503.20" y="753.70" width="2.4" height="2.4"/>
<rect x="493.45" y="753.70" width="2.4" height="2.4"/>
<rect x="483.70" y="753.70" width="2.4" height="2.4"/>
<rect x="473.95" y="753.70" width="2.4" height="2.4"/>
<rect x="464.20" y="753.70" width="2.4" height="2.4"/>
<rect x="454.45" y="753.70" width="2.4" height="2.4"/>
<rect x="444.70" y="753.70" width="2.4" height="2.4"/>
<rect x="659.20" y="784.70" width="2.4" height="2.4"/>
<rect x="649.45" y="784.70" width="2.4" height="2.4"/>
<rect x="639.70" y="784.70" width="2.4" height="2.4"/>
<rect x="629.95" y="784.70" width="2.4" height="2.4"/>
<rect x="620.20" y="784.70" width="2.4" height="2.4"/>
<rect x="610.45" y="784.70" width="2.4" height="2.4"/>
<rect x="600.70" y="784.70" width="2.4" height="2.4"/>
<rect x="590.95" y="784.70" width="2.4" height="2.4"/>
<rect x="581.20" y="784.70" width="2.4" height="2.4"/>
<rect x="571.45" y="784.70" width="2.4" height="2.4"/>
<rect x="561.70" y="784.70" width="2.4" height="2.4"/>
<rect x="551.95" y="784.70" width="2.4" height="2.4"/>
<rect x="542.20" y="784.70" width="2.4" height="2.4"/>
<rect x="532.45" y="784.70" width="2.4" height="2.4"/>
<rect x="522.70" y="784.70" width="2.4" height="2.4"/>
<rect x="512.95" y="784.70" width="2.4" height="2.4"/>
<rect x="503.20" y="784.70" width="2.4" height="2.4"/>
<rect x="493.45" y="784.70" width="2.4" height="2.4"/>
<rect x="483.70" y="784.70" width="2.4" height="2.4"/>
<rect x="473.95" y="784.70" width="2.4" height="2.4"/>
<rect x="464.20" y="784.70" width="2.4" height="2.4"/>
<rect x="454.45" y="784.70" width="2.4" height="2.4"/>
<rect x="444.70" y="784.70" width="2.4" height="2.4"/>
<rect x="659.20" y="815.70" width="2.4" height="2.4"/>
<rect x="649.45" y="815.70" width="2.4" height="2.4"/>
<rect x="639.70" y="815.70" width="2.4" height="2.4"/>
<rect x="629.95" y="815.70" width="2.4" height="2.4"/>
<rect x="620.20" y="815.70" width="2.4" height="2.4"/>
<rect x="610.45" y="815.70" width="2.4" height="2.4"/>
<rect x="600.70" y="815.70" width="2.4" height="2.4"/>
<rect x="590.95" y="815.70" width="2.4" height="2.4"/>
<rect x="581.20" y="815.70" width="2.4" height="2.4"/>
<rect x="571.45" y="815.70" width="2.4" height="2.4"/>
<rect x="561.70" y="815.70" width="2.4" height="2.4"/>
<rect x="551.95" y="815.70" width="2.4" height="2.4"/>
<rect x="542.20" y="815.70" width="2.4" height="2.4"/>
<rect x="532.45" y="815.70" width="2.4" height="2.4"/>
<rect x="522.70" y="815.70" width="2.4" height="2.4"/>
<rect x="512.95" y="815.70" width="2.4" height="2.4"/>
<rect x="503.20" y="815.70" width="2.4" height="2.4"/>
<rect x="493.45" y="815.70" width="2.4" height="2.4"/>
<rect x="483.70" y="815.70" width="2.4" height="2.4"/>
<rect x="473.95" y="815.70" width="2.4" height="2.4"/>
<rect x="464.20" y="815.70" width="2.4" height="2.4"/>
<rect x="454.45" y="815.70" width="2.4" height="2.4"/>
<rect x="444.70" y="815.70" width="2.4" height="2.4"/>
<rect x="434.95" y="815.70" width="2.4" height="2.4"/>
<rect x="425.20" y="815.70" width="2.4" height="2.4"/>
<rect x="415.45" y="815.70" width="2.4" height="2.4"/>
<rect x="405.70" y="815.70" width="2.4" height="2.4"/>
<rect x="395.95" y="815.70" width="2.4" height="2.4"/>
<rect x="386.20" y="815.70" width="2.4" height="2.4"/>
<rect x="659.20" y="846.70" width="2.4" height="2.4"/>
<rect x="649.45" y="846.70" width="2.4" height="2.4"/>
<rect x="639.70" y="846.70" width="2.4" height="2.4"/>
<rect x="629.95" y="846.70" width="2.4" height="2.4"/>
<rect x="620.20" y="846.70" width="2.4" height="2.4"/>
<rect x="610.45" y="846.70" width="2.4" height="2.4"/>
<rect x="600.70" y="846.70" width="2.4" height="2.4"/>
<rect x="590.95" y="846.70" width="2.4" height="2.4"/>
<rect x="581.20" y="846.70" width="2.4" height="2.4"/>
<rect x="571.45" y="846.70" width="2.4" height="2.4"/>
<rect x="561.70" y="846.70" width="2.4" height="2.4"/>
<rect x="551.95" y="846.70" width="2.4" height="2.4"/>
<rect x="542.20" y="846.70" width="2.4" height="2.4"/>
<rect x="532.45" y="846.70" width="2.4" height="2.4"/>
<rect x="522.70" y="846.70" width="2.4" height="2.4"/>
<rect x="512.95" y="846.70" width="2.4" height="2.4"/>
<rect x="503.20" y="846.70" width="2.4" height="2.4"/>
<rect x="493.45" y="846.70" width="2.4" height="2.4"/>
<rect x="483.70" y="846.70" width="2.4" height="2.4"/>
<rect x="473.95" y="846.70" width="2.4" height="2.4"/>
<rect x="464.20" y="846.70" width="2.4" height="2.4"/>
<rect x="454.45" y="846.70" width="2.4" height="2.4"/>
<rect x="444.70" y="846.70" width="2.4" height="2.4"/>
<rect x="659.20" y="877.50" width="2.4" height="2.4"/>
<rect x="649.45" y="877.50" width="2.4" height="2.4"/>
<rect x="639.70" y="877.50" width="2.4" height="2.4"/>
<rect x="629.95" y="877.50" width="2.4" height="2.4"/>
<rect x="620.20" y="877.50" width="2.4" height="2.4"/>
<rect x="610.45" y="877.50" width="2.4" height="2.4"/>
<rect x="600.70" y="877.50" width="2.4" height="2.4"/>
<rect x="590.95" y="877.50" width="2.4" height="2.4"/>
<rect x="581.20" y="877.50" width="2.4" height="2.4"/>
<rect x="571.45" y="877.50" width="2.4" height="2.4"/>
<rect x="561.70" y="877.50" width="2.4" height="2.4"/>
<rect x="551.95" y="877.50" width="2.4" height="2.4"/>
<rect x="542.20" y="877.50" width="2.4" height="2.4"/>
<rect x="532.45" y="877.50" width="2.4" height="2.4"/>
<rect x="522.70" y="877.50" width="2.4" height="2.4"/>
<rect x="512.95" y="877.50" width="2.4" height="2.4"/>
<rect x="503.20" y="877.50" width="2.4" height="2.4"/>
<rect x="493.45" y="877.50" width="2.4" height="2.4"/>
<rect x="483.70" y="877.50" width="2.4" height="2.4"/>
<rect x="473.95" y="877.50" width="2.4" height="2.4"/>
<rect x="464.20" y="877.50" width="2.4" height="2.4"/>
<rect x="454.45" y="877.50" width="2.4" height="2.4"/>
<rect x="444.70" y="877.50" width="2.4" height="2.4"/>
<rect x="434.95" y="877.50" width="2.4" height="2.4"/>
<rect x="425.20" y="877.50" width="2.4" height="2.4"/>
<rect x="415.45" y="877.50" width="2.4" height="2.4"/>
<rect x="405.70" y="877.50" width="2.4" height="2.4"/>
<rect x="395.95" y="877.50" width="2.4" height="2.4"/>
<rect x="659.20" y="908.20" width="2.4" height="2.4"/>
<rect x="649.45" y="908.20" width="2.4" height="2.4"/>
<rect x="639.70" y="908.20" width="2.4" height="2.4"/>
<rect x="629.95" y="908.20" width="2.4" height="2.4"/>
<rect x="620.20" y="908.20" width="2.4" height="2.4"/>
<rect x="610.45" y="908.20" width="2.4" height="2.4"/>
<rect x="600.70" y="908.20" width="2.4" height="2.4"/>
<rect x="590.95" y="908.20" width="2.4" height="2.4"/>
<rect x="581.20" y="908.20" width="2.4" height="2.4"/>
<rect x="571.45" y="908.20" width="2.4" height="2.4"/>
<rect x="561.70" y="908.20" width="2.4" height="2.4"/>
<rect x="551.95" y="908.20" width="2.4" height="2.4"/>
<rect x="542.20" y="908.20" width="2.4" height="2.4"/>
<rect x="532.45" y="908.20" width="2.4" height="2.4"/>
<rect x="522.70" y="908.20" width="2.4" height="2.4"/>
<rect x="512.95" y="908.20" width="2.4" height="2.4"/>
<rect x="503.20" y="908.20" width="2.4" height="2.4"/>
<rect x="493.45" y="908.20" width="2.4" height="2.4"/>
<rect x="483.70" y="908.20" width="2.4" height="2.4"/>
<rect x="473.95" y="908.20" width="2.4" height="2.4"/>
<rect x="464.20" y="908.20" width="2.4" height="2.4"/>
<rect x="454.45" y="908.20" width="2.4" height="2.4"/>
<rect x="444.70" y="908.20" width="2.4" height="2.4"/>
<rect x="434.95" y="908.20" width="2.4" height="2.4"/>
<rect x="425.20" y="908.20" width="2.4" height="2.4"/>
<rect x="415.45" y="908.20" width="2.4" height="2.4"/>
<rect x="405.70" y="908.20" width="2.4" height="2.4"/>
<rect x="395.95" y="908.20" width="2.4" height="2.4"/>
<rect x="386.20" y="908.20" width="2.4" height="2.4"/>
<rect x="659.20" y="939.20" width="2.4" height="2.4"/>
<rect x="649.45" y="939.20" width="2.4" height="2.4"/>
<rect x="639.70" y="939.20" width="2.4" height="2.4"/>
<rect x="629.95" y="939.20" width="2.4" height="2.4"/>
<rect x="620.20" y="939.20" width="2.4" height="2.4"/>
<rect x="610.45" y="939.20" width="2.4" height="2.4"/>
<rect x="600.70" y="939.20" width="2.4" height="2.4"/>
<rect x="590.95" y="939.20" width="2.4" height="2.4"/>
<rect x="581.20" y="939.20" width="2.4" height="2.4"/>
<rect x="571.45" y="939.20" width="2.4" height="2.4"/>
<rect x="561.70" y="939.20" width="2.4" height="2.4"/>
<rect x="551.95" y="939.20" width="2.4" height="2.4"/>
<rect x="542.20" y="939.20" width="2.4" height="2.4"/>
<rect x="532.45" y="939.20" width="2.4" height="2.4"/>
<rect x="522.70" y="939.20" width="2.4" height="2.4"/>
<rect x="512.95" y="939.20" width="2.4" height="2.4"/>
<rect x="503.20" y="939.20" width="2.4" height="2.4"/>
<rect x="493.45" y="939.20" width="2.4" height="2.4"/>
<rect x="483.70" y="939.20" width="2.4" height="2.4"/>
<rect x="473.95" y="939.20" width="2.4" height="2.4"/>
<rect x="464.20" y="939.20" width="2.4" height="2.4"/>
</g></svg>
</body></html>
